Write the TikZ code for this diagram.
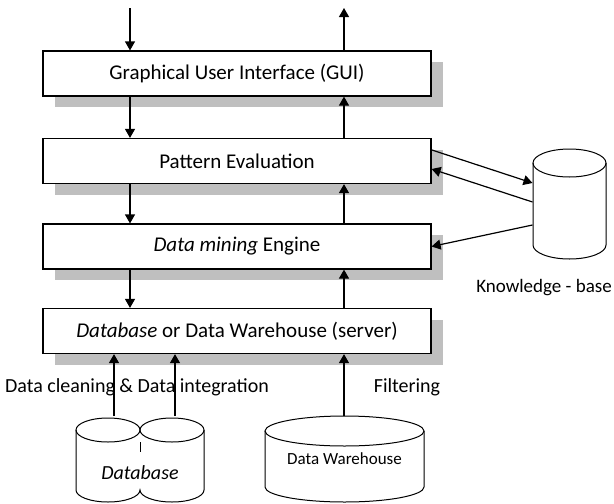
\documentclass[tikz,border=0pt]{standalone}
\usepackage{fontspec}
\setmainfont{Carlito}
\usetikzlibrary{arrows.meta,shadows}
\tikzset{
  layer/.style={draw, line width=1.2pt, fill=white, minimum width=388pt, minimum height=45pt,
    inner sep=0pt, font=\fontsize{21}{25}\selectfont,
    drop shadow={shadow xshift=12pt, shadow yshift=-11pt, fill=black!25, opacity=1}},
  store/.style={inner sep=0pt},
  arr/.style={line width=1.2pt, -{Triangle[length=9pt,width=10pt]}},
  lbl/.style={font=\fontsize{20}{24}\selectfont}
}
\begin{document}
\begin{tikzpicture}[x=1pt,y=-1pt]
        \useasboundingbox (0,0) rectangle (614,504);

        \begin{scope}[every node/.style={layer}]
          \node (gui) at (237,73.5)  {Graphical User Interface (GUI)};
          \node (pe)  at (237,161)   {Pattern Evaluation};
          \node (dm)  at (237,246.5) {\textit{Data mining} Engine};
          \node (srv) at (237,331)   {\textit{Database} or Data Warehouse (server)};
        \end{scope}

        \begin{scope}[line width=1pt]
          \draw (569.5,163) ellipse [x radius=36.5pt, y radius=14pt];
          \draw (533,163) -- (533,245) arc[start angle=180, end angle=360, x radius=36.5pt, y radius=14pt]
                -- (606,163);
          \node[store, minimum width=73pt, minimum height=110pt] (kb) at (569.5,204) {};

          \draw (344.5,431) ellipse [x radius=79.5pt, y radius=15pt];
          \draw (265,431) -- (265,487) arc[start angle=180, end angle=360, x radius=79.5pt, y radius=15pt]
                -- (424,431);
          \node[store, minimum width=159pt, minimum height=86pt, font=\fontsize{17}{20}\selectfont]
                (dw) at (344.5,459) {Data Warehouse};

          \draw (108,430) ellipse [x radius=32pt, y radius=12pt];
          \draw (172,430) ellipse [x radius=32pt, y radius=12pt];
          \draw (140,442) -- (140,452);
          \draw (76,430) -- (76,490) arc[start angle=180, end angle=360, x radius=32pt, y radius=12pt]
                arc[start angle=180, end angle=360, x radius=32pt, y radius=12pt] -- (204,430);
          \node[lbl] (db) at (140,473) {\textit{Database}};
        \end{scope}

        \node[font=\fontsize{19}{23}\selectfont] (kbl) at (544,288) {Knowledge - base};
        \node[lbl] (clean) at (137,387) {Data cleaning \& Data integration};
        \node[lbl] (filt)  at (407,387) {Filtering};

        \coordinate (in)  at (130,8);
        \coordinate (out) at (344,8);
        \coordinate (db1) at (114,416);
        \coordinate (db2) at (175,416);

        \draw[arr] (in) -- (in |- gui.north);
        \draw[arr] (gui.south -| in) -- (pe.north -| in);
        \draw[arr] (pe.south -| in) -- (dm.north -| in);
        \draw[arr] (dm.south -| in) -- (srv.north -| in);

        \draw[arr] (gui.north -| out) -- (out);
        \draw[arr] (pe.north -| out) -- (gui.south -| out);
        \draw[arr] (dm.north -| out) -- (pe.south -| out);
        \draw[arr] (srv.north -| out) -- (dm.south -| out);

        \draw[arr] (db1) -- (db1 |- srv.south);
        \draw[arr] (db2) -- (db2 |- srv.south);
        \draw[arr] (dw.north -| out) -- (srv.south -| out);

        \draw[arr] ([yshift=-12pt]pe.north east) -- ([yshift=21pt]kb.west);
        \draw[arr] ([yshift=2pt]kb.west) -- ([yshift=-8pt]pe.east);
        \draw[arr] ([yshift=-21pt]kb.west) -- (dm.east);

      \end{tikzpicture}
\end{document}
